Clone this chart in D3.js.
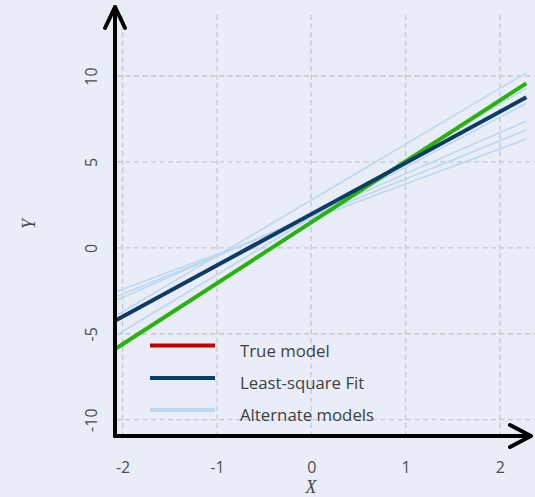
<!DOCTYPE html>
<html>
<head>
<meta charset="utf-8">
<script src="https://cdn.jsdelivr.net/npm/d3@7"></script>
<style>
  html, body { margin: 0; padding: 0; background: #e9edf8; }
  svg { display: block; }
</style>
</head>
<body>
<div id="chart"></div>
<script>
// Ends of the x span covered by every model line
const lineX = [-2.07, 2.28];

// y values of each line at those two ends
const trueModelY = [-5.86, 9.57];
const leastSquareY = [-4.21, 8.76];
const alternateStartY = [-3.95, -5.10, -4.20, -3.05, -2.85, -2.56];
const alternateEndY = [10.19, 9.30, 8.41, 7.38, 6.86, 6.33];

// Tick values
const xTicks = [-2, -1, 0, 1, 2];
const yTicks = [-10, -5, 0, 5, 10];

// Legend entries
const legendLabels = ["True model", "Least-square Fit", "Alternate models"];
const legendColors = ["#c00000", "#0b3c65", "#bfd7ee"];

const W = 535, H = 497;
const svg = d3.select("#chart").append("svg")
  .attr("width", W).attr("height", H);

svg.append("rect").attr("width", W).attr("height", H).attr("fill", "#e9edf8");

const x = d3.scaleLinear().domain([-2.08, 2.34]).range([115, 532]);
const y = d3.scaleLinear().domain([-10.95, 13.55]).range([436, 15]);

const tickFont = "'Open Sans', 'Noto Sans', sans-serif";

// dashed grid
const grid = svg.append("g")
  .attr("stroke", "#c5c7cb")
  .attr("stroke-width", 1.3)
  .attr("stroke-dasharray", "5,3.5");
grid.selectAll("line.v").data(xTicks).join("line")
  .attr("class", "v")
  .attr("x1", d => x(d)).attr("x2", d => x(d))
  .attr("y1", 15).attr("y2", 436);
grid.selectAll("line.h").data(yTicks).join("line")
  .attr("class", "h")
  .attr("x1", 117).attr("x2", W)
  .attr("y1", d => y(d)).attr("y2", d => y(d));

// model lines
const line = d3.line().x(d => x(d[0])).y(d => y(d[1]));
const alternates = alternateStartY.map((s, i) => [[lineX[0], s], [lineX[1], alternateEndY[i]]]);

svg.append("g").selectAll("path").data(alternates).join("path")
  .attr("d", line)
  .attr("fill", "none")
  .attr("stroke", "#bfd7ee")
  .attr("stroke-width", 1.6);

svg.append("path")
  .attr("d", line([[lineX[0], trueModelY[0]], [lineX[1], trueModelY[1]]]))
  .attr("fill", "none")
  .attr("stroke", "#27b20c")
  .attr("stroke-width", 4);

svg.append("path")
  .attr("d", line([[lineX[0], leastSquareY[0]], [lineX[1], leastSquareY[1]]]))
  .attr("fill", "none")
  .attr("stroke", "#0b3c65")
  .attr("stroke-width", 4);

// tick labels (plain hyphen for negatives)
const fmt = d => String(d);

const xAxis = svg.append("g")
  .attr("transform", `translate(0,436)`)
  .call(d3.axisBottom(x).tickValues(xTicks).tickSize(0).tickFormat(fmt));
xAxis.select(".domain").remove();
xAxis.selectAll("text")
  .attr("y", 37).attr("dy", null)
  .attr("font-family", tickFont).attr("font-size", 16)
  .attr("fill", "#4d4d4d");

const yAxis = svg.append("g")
  .attr("transform", `translate(115,0)`)
  .call(d3.axisLeft(y).tickValues(yTicks).tickSize(0).tickFormat(fmt));
yAxis.select(".domain").remove();
yAxis.selectAll("text")
  .attr("x", null).attr("dy", null)
  .attr("text-anchor", "middle")
  .attr("transform", "translate(-18,0) rotate(-90)")
  .attr("font-family", tickFont).attr("font-size", 16)
  .attr("fill", "#4d4d4d");

// axis lines with arrow heads
const axes = svg.append("g")
  .attr("stroke", "#000").attr("stroke-width", 4)
  .attr("fill", "none").attr("stroke-linecap", "round").attr("stroke-linejoin", "round");
axes.append("path").attr("d", `M115,436 V7`);
axes.append("path").attr("d", `M105,28 L115,7 L125,28`);
axes.append("path").attr("d", `M115,436 H530`);
axes.append("path").attr("d", `M510,425 L531,436 L510,447`);

// axis titles
svg.append("text")
  .attr("x", 311).attr("y", 493)
  .attr("text-anchor", "middle")
  .attr("font-family", "'Liberation Serif', 'DejaVu Serif', serif")
  .attr("font-style", "italic").attr("font-size", 18)
  .attr("fill", "#444")
  .text("X");
svg.append("text")
  .attr("transform", "translate(35,224) rotate(-90)")
  .attr("text-anchor", "middle")
  .attr("font-family", "'Liberation Serif', 'DejaVu Serif', serif")
  .attr("font-style", "italic").attr("font-size", 18)
  .attr("fill", "#444")
  .text("Y");

// legend
const legendY = [345.5, 378, 410];
const legend = svg.append("g").selectAll("g").data(legendLabels).join("g")
  .attr("transform", (d, i) => `translate(0,${legendY[i]})`);
legend.append("line")
  .attr("x1", 150).attr("x2", 215)
  .attr("stroke", (d, i) => legendColors[i])
  .attr("stroke-width", 4);
legend.append("text")
  .attr("x", 240).attr("y", 11)
  .attr("font-family", tickFont).attr("font-size", 16.8)
  .attr("fill", "#404040")
  .text(d => d);
</script>
</body>
</html>
